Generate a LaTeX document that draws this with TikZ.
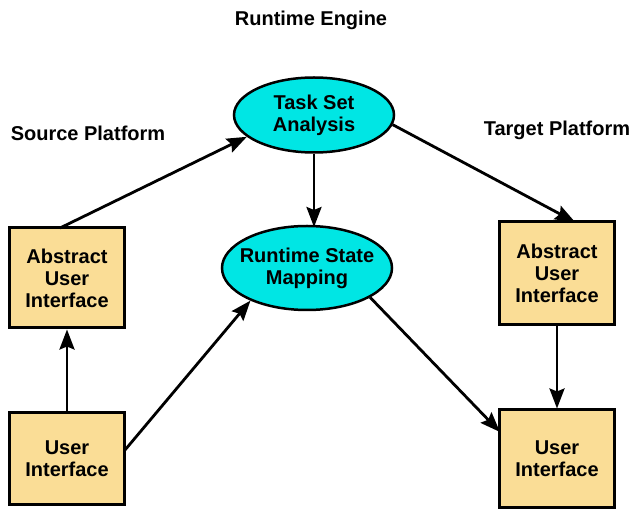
\documentclass[tikz,border=0pt]{standalone}
\usepackage{fontspec}
\setmainfont{Liberation Sans}
\usetikzlibrary{shapes.geometric,arrows.meta}
\definecolor{boxfill}{RGB}{250,221,150}
\definecolor{ellfill}{RGB}{0,230,228}
\tikzset{
  x=1pt,y=-1pt,
  lbl/.style={font=\fontsize{20}{22}\selectfont\bfseries, align=center},
  pbox/.style={lbl, draw=black, line width=3pt, fill=boxfill, minimum width=115pt, minimum height=100pt, inner sep=0pt},
  pell/.style={lbl, ellipse, draw=black, line width=2.5pt, fill=ellfill, inner sep=0pt},
  conn/.style={line width=2.8pt, -{Stealth[length=20pt,width=15pt,inset=3pt]}}
}
\begin{document}
\begin{tikzpicture}
\useasboundingbox (0,0) rectangle (633,518);
\node[lbl] (eng) at (311,20) {Runtime Engine};
\node[lbl] (src) at (88,133) {Source Platform};
\node[lbl] (tgt) at (557,130) {Target Platform};
\node[pell, minimum width=160pt, minimum height=75pt] (tsa) at (314,115) {Task Set\\Analysis};
\node[pell, inner xsep=-8pt, minimum width=170pt, minimum height=84pt] (rsm) at (307,268) {Runtime State\\Mapping};
\node[pbox] (laui) at (67,278) {Abstract\\User\\Interface};
\node[pbox, minimum height=92pt] (lui) at (67,459) {User\\Interface};
\node[pbox, minimum height=103pt] (raui) at (557,273) {Abstract\\User\\Interface};
\node[pbox, minimum height=98pt] (rui) at (557,459) {User\\Interface};
\coordinate (a1) at (60,228);
\coordinate (a2) at (125,450);
\coordinate (a3) at (575,222);
\coordinate (a4) at (500,432);
\coordinate (a5) at (314,227);
\draw[conn] (lui.north) -- (laui.south);
\draw[conn] (a1) -- (tsa.198);
\draw[conn] (a2) -- (rsm.210);
\draw[conn] (tsa.south) -- (a5);
\draw[conn] (tsa.353) -- (a3);
\draw[conn] (raui.south) -- (rui.north);
\draw[conn] (rsm.335) -- (a4);
\end{tikzpicture}
\end{document}
